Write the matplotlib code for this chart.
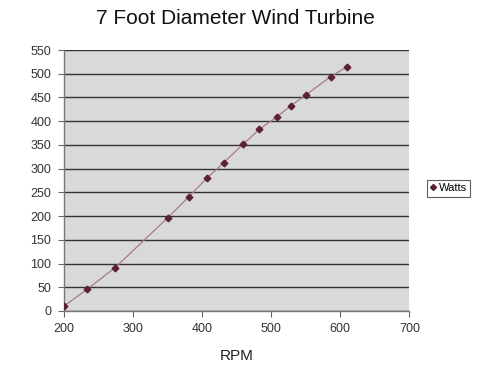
import matplotlib.pyplot as plt
import numpy as np

rpm = [200, 234, 274, 350, 381, 407, 431, 459, 483, 508, 528, 550, 586, 609]
watts = [10, 46, 91, 196, 241, 280, 312, 351, 383, 409, 432, 455, 494, 514]

x_ticks = [200, 300, 400, 500, 600, 700]
y_ticks = list(range(0, 551, 50))

plt.rcParams["font.family"] = ["Liberation Sans", "DejaVu Sans"]

fig = plt.figure(figsize=(4.8, 3.76), dpi=100)
ax = fig.add_axes([0.133, 0.173, 0.72, 0.694])

ax.set_facecolor("#d9d9d9")
ax.plot(rpm, watts, color="#a87a88", linewidth=0.9, zorder=3)
ax.plot(rpm, watts, linestyle="none", marker="D", markersize=3.4,
        color="#5a2038", label="Watts", zorder=4)

ax.set_xlim(200, 700)
ax.set_ylim(0, 550)
ax.set_xticks(x_ticks)
ax.set_yticks(y_ticks)
ax.tick_params(labelsize=9, colors="#333333", length=4, width=0.8,
               color="#666666", pad=5)

ax.yaxis.grid(True, color="#333333", linewidth=1.0)
ax.set_axisbelow(True)
for side in ["top", "right"]:
    ax.spines[side].set_visible(False)
for side in ["left", "bottom"]:
    ax.spines[side].set_color("#777777")
    ax.spines[side].set_linewidth(1.0)

ax.set_xlabel("RPM", fontsize=11, color="#222222", labelpad=10)
fig.suptitle("7 Foot Diameter Wind Turbine", fontsize=15, color="#111111",
             x=0.49, y=0.975)

leg = ax.legend(loc="center left", bbox_to_anchor=(1.05, 0.47), fontsize=8,
                frameon=True, fancybox=False, handlelength=0.5,
                handletextpad=0.3, borderpad=0.3, borderaxespad=0,
                markerscale=0.9)
leg.get_frame().set_edgecolor("#333333")
leg.get_frame().set_linewidth(0.8)

fig.savefig("out.png", dpi=100)
